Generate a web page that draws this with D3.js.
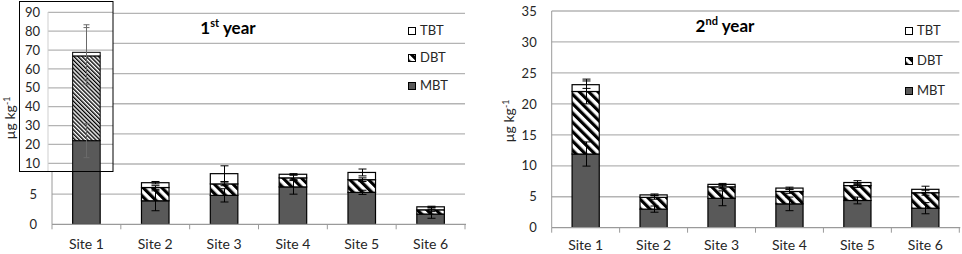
<!DOCTYPE html>
<html>
<head>
<meta charset="utf-8">
<script src="https://cdn.jsdelivr.net/npm/d3@7"></script>
<style>
  body { margin: 0; background: #fff; }
</style>
</head>
<body>
<svg id="chart" width="962" height="254"></svg>
<script>
/// DATA ///
const sites = ["Site 1", "Site 2", "Site 3", "Site 4", "Site 5", "Site 6"];
const seriesNames = ["MBT", "DBT", "TBT"];

// 1st year (µg kg-1)
const year1MBT = [22.0, 3.9, 4.8, 6.2, 5.3, 1.7];
const year1DBT = [44.9, 2.2, 1.9, 1.5, 2.1, 0.7];
const year1TBT = [1.9, 0.8, 1.7, 0.6, 1.2, 0.5];
const year1MBTerr = [9.0, 1.65, 1.1, 1.2, 0.35, 0.7];
const year1DBTerr = [15.0, 0.3, 0.3, 0.45, 0.3, 0.3];
const year1TBTerr = [14.6, 0.2, 1.3, 0.1, 0.57, 0.1];

// 2nd year (µg kg-1)
const year2MBT = [11.9, 3.0, 4.75, 3.85, 4.4, 3.15];
const year2DBT = [10.1, 1.9, 1.85, 2.0, 2.4, 2.5];
const year2TBT = [1.1, 0.4, 0.4, 0.55, 0.5, 0.55];
const year2MBTerr = [1.95, 0.5, 1.2, 1.1, 0.55, 0.9];
const year2DBTerr = [2.0, 0.3, 0.3, 0.3, 0.3, 0.4];
const year2TBTerr = [0.6, 0.15, 0.15, 0.15, 0.3, 0.5];

// Tick labels
const yTicksMain = [0, 5, 10, 15, 20, 25, 30, 35];
const yTicksInset = [10, 20, 30, 40, 50, 60, 70, 80, 90];

/// SETTINGS ///
const font = "Lato, 'Open Sans', sans-serif";
const gridColor = "#b4b4b4";
const axisColor = "#9a9a9a";
const textColor = "#262626";
const mbtColor = "#595959";

const svg = d3.select("#chart");
const defs = svg.append("defs");

// Hatch patterns ("\" stripes), wide for main bars, thin for the inset
function hatch(id, size, stroke) {
    const p = defs.append("pattern")
        .attr("id", id)
        .attr("patternUnits", "userSpaceOnUse")
        .attr("width", size)
        .attr("height", size)
        .attr("patternTransform", "rotate(-45)");
    p.append("rect").attr("width", size).attr("height", size).attr("fill", "#fff");
    p.append("rect").attr("width", stroke).attr("height", size).attr("fill", "#000");
}
hatch("hatchWide", 6.6, 3.2);
hatch("hatchThin", 2.9, 1.4);

const fillFor = (key, thin) => key === "MBT" ? mbtColor
    : key === "DBT" ? `url(#${thin ? "hatchThin" : "hatchWide"})` : "#fff";

// Build stacked rows from the arrays
function stackRows(mbt, dbt, tbt, mErr, dErr, tErr) {
    const rows = [];
    sites.forEach((site, i) => {
        const vals = { MBT: mbt[i], DBT: dbt[i], TBT: tbt[i] };
        const errs = { MBT: mErr[i], DBT: dErr[i], TBT: tErr[i] };
        let base = 0;
        seriesNames.forEach(key => {
            rows.push({ site, key, y0: base, y1: base + vals[key], err: errs[key] });
            base += vals[key];
        });
    });
    return rows;
}

const rows1 = stackRows(year1MBT, year1DBT, year1TBT, year1MBTerr, year1DBTerr, year1TBTerr);
const rows2 = stackRows(year2MBT, year2DBT, year2TBT, year2MBTerr, year2DBTerr, year2TBTerr);

function yLabel(x, y) {
    const t = svg.append("text")
        .attr("transform", `translate(${x},${y}) rotate(-90)`)
        .attr("text-anchor", "middle")
        .attr("font-family", font)
        .attr("font-size", 14)
        .attr("fill", textColor)
        .text("µg kg");
    t.append("tspan").attr("dy", -5).attr("font-size", 9).text("-1");
}

function drawErrors(g, rows, x, y, cap, color) {
    const eb = g.append("g").attr("stroke", color).attr("stroke-width", 1);
    rows.forEach(d => {
        const cx = Math.round(x(d.site) + x.bandwidth() / 2) + 0.5;
        const lo = y(d.y1 - d.err), hi = y(d.y1 + d.err);
        eb.append("line").attr("x1", cx).attr("x2", cx).attr("y1", lo).attr("y2", hi);
        eb.append("line").attr("x1", cx - cap / 2).attr("x2", cx + cap / 2).attr("y1", lo).attr("y2", lo);
        eb.append("line").attr("x1", cx - cap / 2).attr("x2", cx + cap / 2).attr("y1", hi).attr("y2", hi);
    });
}

function drawPanel(p) {
    const g = svg.append("g");

    const y = d3.scaleLinear().domain([0, 35]).range([p.yBottom, p.yTop]);
    const x = d3.scaleBand().domain(sites).range([p.x0, p.x1]).paddingInner(0.6).paddingOuter(0.3);
    const xb = d3.scaleBand().domain(sites).range([p.x0, p.x1]).padding(0);

    // gridlines
    g.append("g").selectAll("line")
        .data(yTicksMain.filter(v => v > 0))
        .enter().append("line")
        .attr("x1", p.x0).attr("x2", p.x1)
        .attr("y1", d => y(d)).attr("y2", d => y(d))
        .attr("stroke", gridColor).attr("stroke-width", 1.3);

    // y axis labels (the ones hidden under an inset are left out)
    const ya = g.append("g")
        .attr("transform", `translate(${p.x0},0)`)
        .call(d3.axisLeft(y).tickValues(yTicksMain.filter(v => y(v) > p.labelMinY)).tickSize(0).tickPadding(15));
    ya.select(".domain").remove();
    ya.selectAll("text")
        .attr("font-family", font).attr("font-size", 13).attr("fill", textColor);

    // y axis line
    g.append("line")
        .attr("x1", p.x0).attr("x2", p.x0).attr("y1", p.yTop).attr("y2", p.yBottom)
        .attr("stroke", axisColor);

    // bars (clipped to the plot)
    const clipId = "clip" + p.id;
    defs.append("clipPath").attr("id", clipId).append("rect")
        .attr("x", p.x0).attr("y", p.yTop - 2).attr("width", p.x1 - p.x0).attr("height", p.yBottom - p.yTop + 2);
    const bars = g.append("g").attr("clip-path", `url(#${clipId})`);
    bars.selectAll("rect")
        .data(p.rows)
        .enter().append("rect")
        .attr("x", d => x(d.site))
        .attr("width", x.bandwidth())
        .attr("y", d => y(d.y1))
        .attr("height", d => y(d.y0) - y(d.y1))
        .attr("fill", d => fillFor(d.key, false))
        .attr("stroke", "#000")
        .attr("stroke-width", 1.2);
    drawErrors(bars, p.rows, x, y, 8, "#000");

    // x axis line + ticks between categories
    g.append("line")
        .attr("x1", p.x0).attr("x2", p.x1 + 1).attr("y1", p.yBottom).attr("y2", p.yBottom)
        .attr("stroke", axisColor).attr("stroke-width", 1.3);
    g.append("g").selectAll("line")
        .data(sites.map(s => xb(s)).concat([p.x1]))
        .enter().append("line")
        .attr("x1", d => d).attr("x2", d => d)
        .attr("y1", p.yBottom).attr("y2", p.yBottom + 5)
        .attr("stroke", axisColor);

    // category labels
    const xa = g.append("g")
        .attr("transform", `translate(0,${p.yBottom})`)
        .call(d3.axisBottom(x).tickSize(0));
    xa.select(".domain").remove();
    xa.selectAll("text")
        .attr("y", p.catBaseline - p.yBottom).attr("dy", 0)
        .attr("font-family", font).attr("font-size", 14).attr("fill", textColor);

    // title
    const t = svg.append("text")
        .attr("x", p.titleX).attr("y", p.titleY)
        .attr("text-anchor", "middle")
        .attr("font-family", font).attr("font-size", 17).attr("font-weight", "bold")
        .attr("fill", "#000")
        .text(p.titleNum);
    t.append("tspan").attr("dy", -7).attr("font-size", 11).text(p.titleSup);
    t.append("tspan").attr("dy", 7).text(" year");

    // legend
    const leg = svg.append("g");
    ["TBT", "DBT", "MBT"].forEach((key, i) => {
        const ly = p.legendYs[i];
        leg.append("rect")
            .attr("x", p.legendX + 0.5).attr("y", Math.round(ly - 3.5) + 0.5)
            .attr("width", 7).attr("height", 7)
            .attr("fill", fillFor(key, false))
            .attr("stroke", "#000").attr("stroke-width", 1);
        leg.append("text")
            .attr("x", p.legendX + 12).attr("y", ly + 4.5)
            .attr("font-family", font).attr("font-size", 13).attr("fill", textColor)
            .text(key);
    });

    yLabel(p.labelX, p.labelY);
    return { x, y };
}

/// LEFT PANEL (1st year) ///
const box = { x: 19.5, y: 1.5, w: 93.5, h: 170 };
const left = drawPanel({
    id: "L", rows: rows1,
    x0: 52, x1: 465, yBottom: 224.3, yTop: 13.3,
    labelMinY: box.y + box.h,
    catBaseline: 249,
    titleX: 228, titleY: 34, titleNum: "1", titleSup: "st",
    legendX: 408, legendYs: [30, 57.5, 85.5],
    labelX: 15, labelY: 118
});

/// INSET (Site 1, 1st year, full scale) ///
const inset = svg.append("g");
defs.append("clipPath").attr("id", "clipInset").append("rect")
    .attr("x", box.x).attr("y", box.y).attr("width", box.w).attr("height", box.h);
inset.append("rect")
    .attr("x", box.x).attr("y", box.y).attr("width", box.w).attr("height", box.h)
    .attr("fill", "#fff");

const yi = d3.scaleLinear().domain([0, 90]).range([182.2, 12.3]);
const insetBody = inset.append("g").attr("clip-path", "url(#clipInset)");
insetBody.append("g").selectAll("line")
    .data(yTicksInset)
    .enter().append("line")
    .attr("x1", 48).attr("x2", box.x + box.w)
    .attr("y1", d => yi(d)).attr("y2", d => yi(d))
    .attr("stroke", gridColor).attr("stroke-width", 1.2);
insetBody.append("line")
    .attr("x1", 48).attr("x2", 48).attr("y1", 12).attr("y2", box.y + box.h)
    .attr("stroke", "#cfcfcf");

const ia = insetBody.append("g")
    .attr("transform", "translate(48,0)")
    .call(d3.axisLeft(yi).tickValues(yTicksInset).tickSize(0).tickPadding(8));
ia.select(".domain").remove();
ia.selectAll("text")
    .attr("font-family", font).attr("font-size", 13).attr("fill", textColor);

const site1Rows = rows1.filter(d => d.site === "Site 1");
insetBody.append("g").selectAll("rect")
    .data(site1Rows)
    .enter().append("rect")
    .attr("x", d => left.x(d.site))
    .attr("width", left.x.bandwidth())
    .attr("y", d => yi(d.y1))
    .attr("height", d => yi(d.y0) - yi(d.y1))
    .attr("fill", d => fillFor(d.key, true))
    .attr("stroke", "#000")
    .attr("stroke-width", 1);
drawErrors(insetBody, site1Rows, left.x, yi, 6, "#6a6a6a");

inset.append("rect")
    .attr("x", box.x).attr("y", box.y).attr("width", box.w).attr("height", box.h)
    .attr("fill", "none").attr("stroke", "#000").attr("stroke-width", 1);

/// RIGHT PANEL (2nd year) ///
drawPanel({
    id: "R", rows: rows2,
    x0: 551.7, x1: 959.3, yBottom: 227.7, yTop: 11,
    labelMinY: 0,
    catBaseline: 250.5,
    titleX: 725, titleY: 32, titleNum: "2", titleSup: "nd",
    legendX: 905, legendYs: [30, 60.5, 90],
    labelX: 514, labelY: 121
});
</script>
</body>
</html>
